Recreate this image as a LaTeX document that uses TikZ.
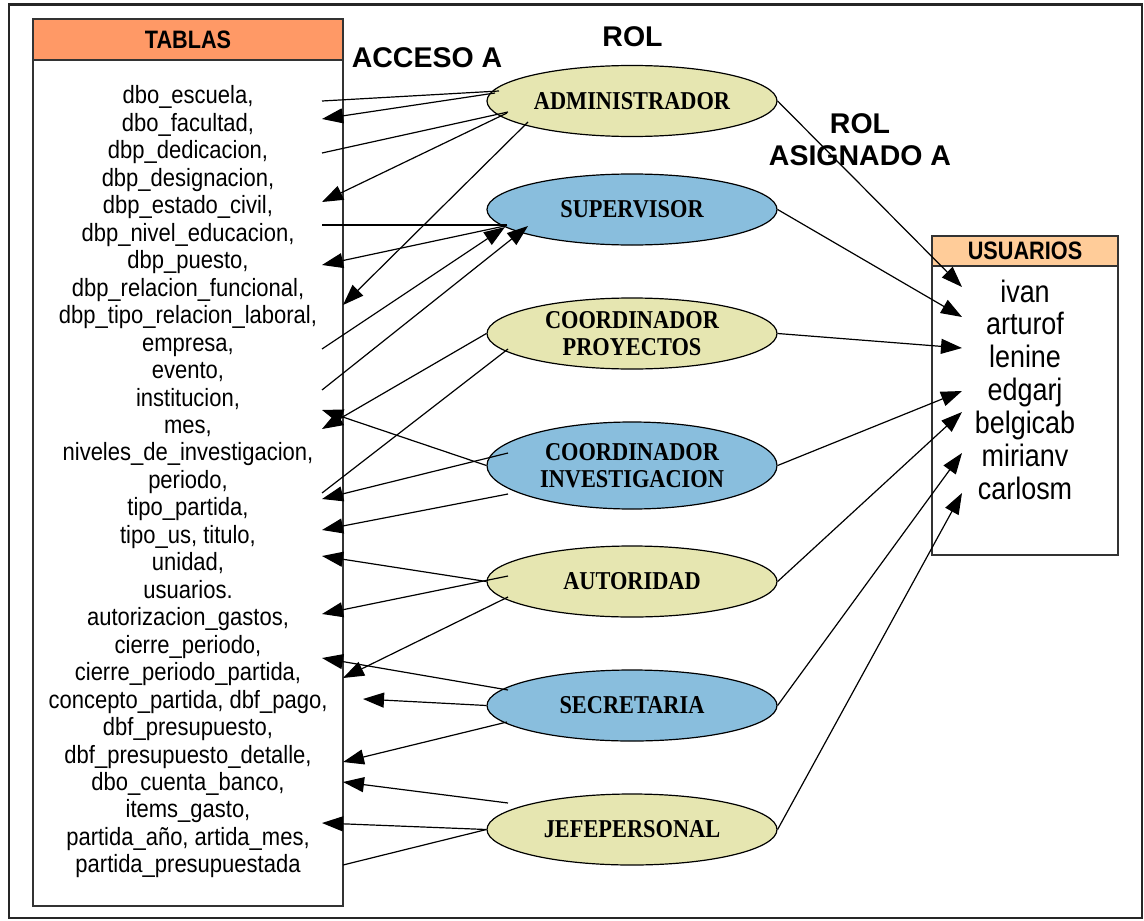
\documentclass[tikz,border=0pt]{standalone}
\usepackage{fontspec}
\setmainfont{Liberation Sans}
\newfontfamily\itemfam[FakeStretch=0.88]{Liberation Sans}
\newfontfamily\cabfam[FakeStretch=0.86]{Liberation Sans}
\newfontfamily\userfam[FakeStretch=0.87]{Liberation Sans}
\newfontfamily\rolfam[FakeStretch=0.87]{Liberation Serif}
\usepackage{tikz}
\usetikzlibrary{shapes.geometric, arrows.meta, positioning}
\definecolor{cabtabla}{RGB}{255,153,102}
\definecolor{cabusuario}{RGB}{255,204,153}
\definecolor{rolkhaki}{RGB}{230,230,177}
\definecolor{rolazul}{RGB}{137,190,221}
\tikzset{
  marco/.style={draw=black!85, line width=1.1pt},
  caja/.style={rectangle, draw=black!80, line width=0.9pt, inner sep=0pt},
  cabecera/.style={caja, font=\cabfam\bfseries\fontsize{12.6pt}{14pt}\selectfont},
  rol/.style={ellipse, draw=black, line width=0.6pt, inner sep=0pt,
    minimum width=145pt, minimum height=35.5pt, align=center,
    font=\rolfam\bfseries\fontsize{12.85pt}{13.5pt}\selectfont},
  rolA/.style={rol, fill=rolkhaki},
  rolB/.style={rol, fill=rolazul},
  titulo/.style={inner sep=0pt, align=center,
    font=\bfseries\fontsize{14.25pt}{16pt}\selectfont},
  item/.style={anchor=base, inner sep=0pt, font=\itemfam\fontsize{12.5pt}{13.75pt}\selectfont},
  usuario/.style={anchor=base, inner sep=0pt, font=\userfam\fontsize{15.5pt}{16.5pt}\selectfont},
  linea/.style={line width=0.6pt},
  flecha/.style={linea, -{Triangle[length=10.5pt, width=7.5pt]}}
}
\begin{document}
\begin{tikzpicture}[x=0.5pt, y=-0.5pt]
  \useasboundingbox (0,0) rectangle (1144,920);
  \draw[marco] (9,4.5) rectangle (1142,918);

  % tablas
  \node[caja, minimum width=155pt, minimum height=443.5pt] (tab) at (188,462.5) {};
  \node[cabecera, fill=cabtabla, minimum width=155pt, minimum height=20.5pt] (tabh) at (188,39.5) {TABLAS};
  \foreach \txt [count=\k from 0] in {{dbo\_escuela,}, {dbo\_facultad,}, {dbp\_dedicacion,},
      {dbp\_designacion,}, {dbp\_estado\_civil,}, {dbp\_nivel\_educacion,}, {dbp\_puesto,},
      {dbp\_relacion\_funcional,}, {dbp\_tipo\_relacion\_laboral,}, {empresa,}, {evento,},
      {institucion,}, {mes,}, {niveles\_de\_investigacion,}, {periodo,}, {tipo\_partida,},
      {tipo\_us, titulo,}, {unidad,}, {usuarios.}, {autorizacion\_gastos,}, {cierre\_periodo,},
      {cierre\_periodo\_partida,}, {concepto\_partida, dbf\_pago,}, {dbf\_presupuesto,},
      {dbf\_presupuesto\_detalle,}, {dbo\_cuenta\_banco,}, {items\_gasto,},
      {partida\_año, artida\_mes,}, {partida\_presupuestada}}
    \node[item] (t\k) at (188,{104+27.46*\k}) {\txt};

  % titulos
  \node[titulo, anchor=base] (acceso) at (427,68) {ACCESO A};
  \node[titulo, anchor=base] (rol) at (632.5,47) {ROL};
  \node[titulo, anchor=north] (asignado) at (860,113) {ROL\\ASIGNADO A};

  % roles
  \node[rolA] (adm) at (632,101) {ADMINISTRADOR};
  \node[rolB] (sup) at (632,209.5) {SUPERVISOR};
  \node[rolA] (cp) at (632,333.5) {COORDINADOR\\PROYECTOS};
  \node[rolB, minimum height=43.5pt] (ci) at (632,465.5) {COORDINADOR\\INVESTIGACION};
  \node[rolA] (aut) at (632,581.5) {AUTORIDAD};
  \node[rolB] (sec) at (632,705.5) {SECRETARIA};
  \node[rolA] (jef) at (632,829.5) {JEFEPERSONAL};

  % usuarios
  \node[caja, minimum width=93pt, minimum height=159.5pt] (usr) at (1025,395.5) {};
  \node[cabecera, fill=cabusuario, minimum width=93pt, minimum height=15pt] (usrh) at (1025,251) {USUARIOS};
  \foreach \nom [count=\k from 0] in {ivan, arturof, lenine, edgarj, belgicab, mirianv, carlosm}
    \node[usuario] (u\k) at (1025,{302+32.9*\k}) {\nom};

  % extremos sobre la tabla y la caja de usuarios
  \foreach \n/\x/\y in {l1/322/101, l2/322/153, l3/322/225, l4/322/493, l5/343/865,
      a1/322/119, a2/322/202, a3/322/265, a4/343/305, a5/322/429, a6/322/410,
      a7/322/499, a8/322/530, a9/322/556, a10/322/614, a11/343/678, a12/322/658,
      a13/363/699, a14/343/762, a15/343/782, a16/322/823, b1/322/349, b2/322/390}
    \coordinate (\n) at (\x,\y);
  \foreach \n/\y in {r1/287, r2/317, r3/348, r4/391, r5/412, r6/453, r7/493}
    \coordinate (\n) at (962,\y);

  % acceso a
  \draw[linea] (l1) -- ([shift={(-133,-10)}]adm.center);
  \draw[linea] (l2) -- ([shift={(-124,11)}]adm.center);
  \draw[linea] (l3) -- ([shift={(-125,15.5)}]sup.center);
  \draw[linea] (l4) -- ([shift={(-124,15.5)}]cp.center);
  \draw[linea] (l5) -- (jef.west);
  \draw[flecha] ([shift={(-137,-8)}]adm.center) -- (a1);
  \draw[flecha] ([shift={(-125,12)}]adm.center) -- (a2);
  \draw[flecha] ([shift={(-125,16)}]sup.center) -- (a3);
  \draw[flecha] ([shift={(-104,21)}]adm.center) -- (a4);
  \draw[flecha] (cp.west) -- (a5);
  \draw[flecha] (ci.west) -- (a6);
  \draw[flecha] ([shift={(-124,-12.5)}]ci.center) -- (a7);
  \draw[flecha] ([shift={(-124,28.5)}]ci.center) -- (a8);
  \draw[flecha] (aut.west) -- (a9);
  \draw[flecha] ([shift={(-124,-5.5)}]aut.center) -- (a10);
  \draw[flecha] ([shift={(-124,15.5)}]aut.center) -- (a11);
  \draw[flecha] ([shift={(-124,-15.5)}]sec.center) -- (a12);
  \draw[flecha] (sec.west) -- (a13);
  \draw[flecha] ([shift={(-125,16.5)}]sec.center) -- (a14);
  \draw[flecha] ([shift={(-124,-26.5)}]jef.center) -- (a15);
  \draw[flecha] (jef.west) -- (a16);
  \draw[flecha] (b1) -- ([shift={(-127,17.5)}]sup.center);
  \draw[flecha] (b2) -- ([shift={(-104,16.5)}]sup.center);

  % rol asignado a
  \draw[flecha] (adm.east) -- (r1);
  \draw[flecha] (sup.east) -- (r2);
  \draw[flecha] (cp.east) -- (r3);
  \draw[flecha] (ci.east) -- (r4);
  \draw[flecha] (aut.east) -- (r5);
  \draw[flecha] (sec.east) -- (r6);
  \draw[flecha] (jef.east) -- (r7);
\end{tikzpicture}
\end{document}
